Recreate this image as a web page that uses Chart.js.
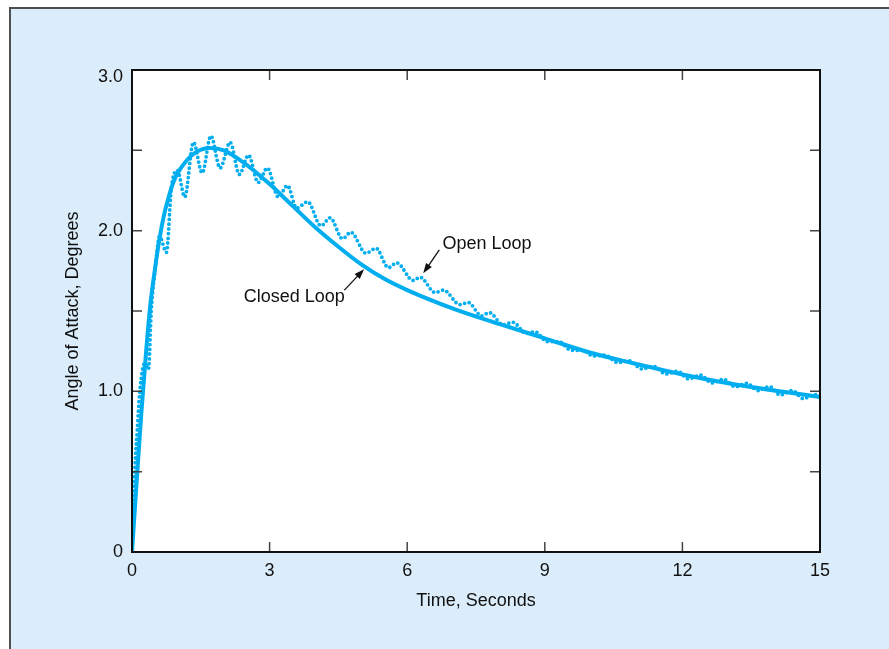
<!DOCTYPE html>
<html>
<head>
<meta charset="utf-8">
<script src="https://cdn.jsdelivr.net/npm/chart.js@4.4.1/dist/chart.umd.min.js"></script>
<style>
  html, body { margin: 0; padding: 0; background: #fff; overflow: hidden; }
  .panel {
    position: absolute; left: 9px; top: 7px; width: 920px; height: 700px;
    background: #dbedfb; border-left: 2px solid #505050; border-top: 2px solid #505050;
  }
  #chart { position: absolute; left: 0; top: 0; }
</style>
</head>
<body>
<div class="panel"></div>
<canvas id="chart" width="889" height="649"></canvas>
<script>
// closed loop response (solid)
const closedTime  = [0, 0.1, 0.2, 0.3, 0.4, 0.5, 0.6, 0.7, 0.8, 0.9, 1.0, 1.2, 1.4, 1.7, 2.0, 2.5, 3.0, 3.5, 4.0, 4.5, 5.0, 5.5, 6.0, 7.0, 8.0, 9.0, 10, 11, 12, 13, 14, 15];
const closedAngle = [0, 0.43, 0.85, 1.22, 1.54, 1.76, 1.95, 2.1, 2.21, 2.3, 2.36, 2.44, 2.49, 2.515, 2.5, 2.41, 2.29, 2.155, 2.02, 1.9, 1.79, 1.7, 1.63, 1.515, 1.42, 1.33, 1.24, 1.17, 1.105, 1.05, 1.005, 0.965];

// open loop response (dotted)
const openTime  = [0, 0.06, 0.115, 0.17, 0.28, 0.36, 0.42, 0.51, 0.6, 0.75, 0.86, 0.99, 1.15, 1.34, 1.53, 1.72, 1.92, 2.14, 2.34, 2.54, 2.75, 2.95, 3.19, 3.39, 3.59, 3.83, 4.12, 4.32, 4.59, 4.77, 5.10, 5.32, 5.59, 5.77, 6.13, 6.28, 6.61, 6.79, 7.15, 7.33, 7.62, 7.79, 8.09, 8.30, 8.60, 8.79, 9.05, 9.30, 9.58, 9.82, 10.06, 10.32, 10.58, 10.85, 11.11, 11.38, 11.64, 11.90, 12.13, 12.40, 12.64, 12.90, 13.15, 13.40, 13.65, 13.90, 14.13, 14.40, 14.63, 14.90, 15.0];
const openAngle = [0, 0.5, 0.76, 1.0, 1.175, 1.14, 1.5, 1.77, 1.965, 1.865, 2.27, 2.375, 2.21, 2.55, 2.36, 2.59, 2.39, 2.55, 2.35, 2.47, 2.30, 2.39, 2.21, 2.28, 2.14, 2.18, 2.03, 2.08, 1.95, 1.99, 1.86, 1.89, 1.77, 1.80, 1.69, 1.71, 1.615, 1.63, 1.54, 1.553, 1.47, 1.49, 1.414, 1.43, 1.36, 1.37, 1.31, 1.31, 1.255, 1.255, 1.22, 1.225, 1.18, 1.19, 1.14, 1.155, 1.108, 1.125, 1.078, 1.10, 1.052, 1.075, 1.028, 1.05, 1.005, 1.03, 0.978, 1.005, 0.955, 0.98, 0.97];

const xTickMarks = [3, 6, 9, 12];
const yTickMarks = [0.5, 1.0, 1.5, 2.0, 2.5];

// callouts: text anchor and arrow (tail -> head) in data units
const callouts = [
  { text: 'Open Loop',   align: 'left',  tx: 6.77, ty: 1.915, from: [6.7, 1.88], to: [6.35, 1.735] },
  { text: 'Closed Loop', align: 'right', tx: 4.64, ty: 1.585, from: [4.63, 1.63], to: [5.06, 1.76] }
];

const FONT = '"Liberation Sans", Arial, Helvetica, sans-serif';
const FONT_SIZE = 18;
const BLUE = '#00aeef';

const framePlugin = {
  id: 'frame',
  beforeDraw(chart) {
    const { ctx, chartArea: a } = chart;
    ctx.save();
    ctx.fillStyle = '#fff';
    ctx.fillRect(a.left, a.top, a.right - a.left, a.bottom - a.top);
    ctx.restore();
  },
  afterDatasetsDraw(chart) {
    const { ctx, chartArea: a, scales: { x, y } } = chart;
    ctx.save();
    // inward tick marks
    ctx.strokeStyle = '#444';
    ctx.lineWidth = 1.5;
    ctx.beginPath();
    yTickMarks.forEach(v => {
      const py = y.getPixelForValue(v);
      ctx.moveTo(a.left, py); ctx.lineTo(a.left + 10, py);
      ctx.moveTo(a.right, py); ctx.lineTo(a.right - 10, py);
    });
    xTickMarks.forEach(v => {
      const px = x.getPixelForValue(v);
      ctx.moveTo(px, a.top); ctx.lineTo(px, a.top + 10);
      ctx.moveTo(px, a.bottom); ctx.lineTo(px, a.bottom - 10);
    });
    ctx.stroke();
    // frame
    ctx.strokeStyle = '#111';
    ctx.lineWidth = 2;
    ctx.strokeRect(a.left, a.top, a.right - a.left, a.bottom - a.top);

    ctx.fillStyle = '#111';
    ctx.font = FONT_SIZE + 'px ' + FONT;
    ctx.textBaseline = 'middle';
    // top label sits just below the top edge
    ctx.textAlign = 'right';
    ctx.fillText('3.0', a.left - 9, y.getPixelForValue(3) + 7);

    // callouts
    ctx.strokeStyle = '#111';
    callouts.forEach(c => {
      ctx.textAlign = c.align;
      ctx.fillText(c.text, x.getPixelForValue(c.tx), y.getPixelForValue(c.ty));
      const x1 = x.getPixelForValue(c.from[0]), y1 = y.getPixelForValue(c.from[1]);
      const x2 = x.getPixelForValue(c.to[0]),   y2 = y.getPixelForValue(c.to[1]);
      const ang = Math.atan2(y2 - y1, x2 - x1);
      ctx.lineWidth = 1.3;
      ctx.beginPath();
      ctx.moveTo(x1, y1);
      ctx.lineTo(x2 - 6 * Math.cos(ang), y2 - 6 * Math.sin(ang));
      ctx.stroke();
      ctx.beginPath();
      ctx.moveTo(x2, y2);
      ctx.lineTo(x2 - 10 * Math.cos(ang) + 3.5 * Math.sin(ang), y2 - 10 * Math.sin(ang) - 3.5 * Math.cos(ang));
      ctx.lineTo(x2 - 10 * Math.cos(ang) - 3.5 * Math.sin(ang), y2 - 10 * Math.sin(ang) + 3.5 * Math.cos(ang));
      ctx.closePath();
      ctx.fill();
    });
    ctx.restore();
  }
};

new Chart(document.getElementById('chart'), {
  type: 'line',
  data: {
    datasets: [
      {
        label: 'Closed Loop',
        data: closedTime.map((t, i) => ({ x: t, y: closedAngle[i] })),
        borderColor: BLUE,
        borderWidth: 4,
        pointRadius: 0,
        cubicInterpolationMode: 'monotone'
      },
      {
        label: 'Open Loop',
        data: openTime.map((t, i) => ({ x: t, y: openAngle[i] })),
        borderColor: BLUE,
        borderWidth: 3.8,
        borderDash: [0, 4.7],
        borderCapStyle: 'round',
        pointRadius: 0,
        cubicInterpolationMode: 'monotone'
      }
    ]
  },
  options: {
    responsive: false,
    animation: false,
    layout: { padding: { left: 0, top: 70, right: 69, bottom: 0 } },
    plugins: { legend: { display: false }, tooltip: { enabled: false } },
    scales: {
      x: {
        type: 'linear',
        min: 0, max: 15,
        grid: { display: false, drawTicks: false },
        border: { display: false },
        ticks: { stepSize: 3, padding: 8, color: '#111', font: { family: FONT, size: FONT_SIZE }, maxRotation: 0 },
        title: { display: true, text: 'Time, Seconds', color: '#111', font: { family: FONT, size: FONT_SIZE }, padding: { top: 0, bottom: 37 } },
        afterFit(scale) { scale.height = 97; }
      },
      y: {
        min: 0, max: 3,
        grid: { display: false, drawTicks: false },
        border: { display: false },
        ticks: {
          stepSize: 0.5, padding: 9, color: '#111', font: { family: FONT, size: FONT_SIZE },
          callback: v => v === 0 ? '0' : (Number.isInteger(v) && v < 3 ? v.toFixed(1) : '')
        },
        title: { display: true, text: 'Angle of Attack, Degrees', color: '#111', font: { family: FONT, size: FONT_SIZE }, padding: { top: 62, bottom: 0 } },
        afterFit(scale) { scale.width = 132; }
      }
    }
  },
  plugins: [framePlugin]
});
</script>
</body>
</html>
